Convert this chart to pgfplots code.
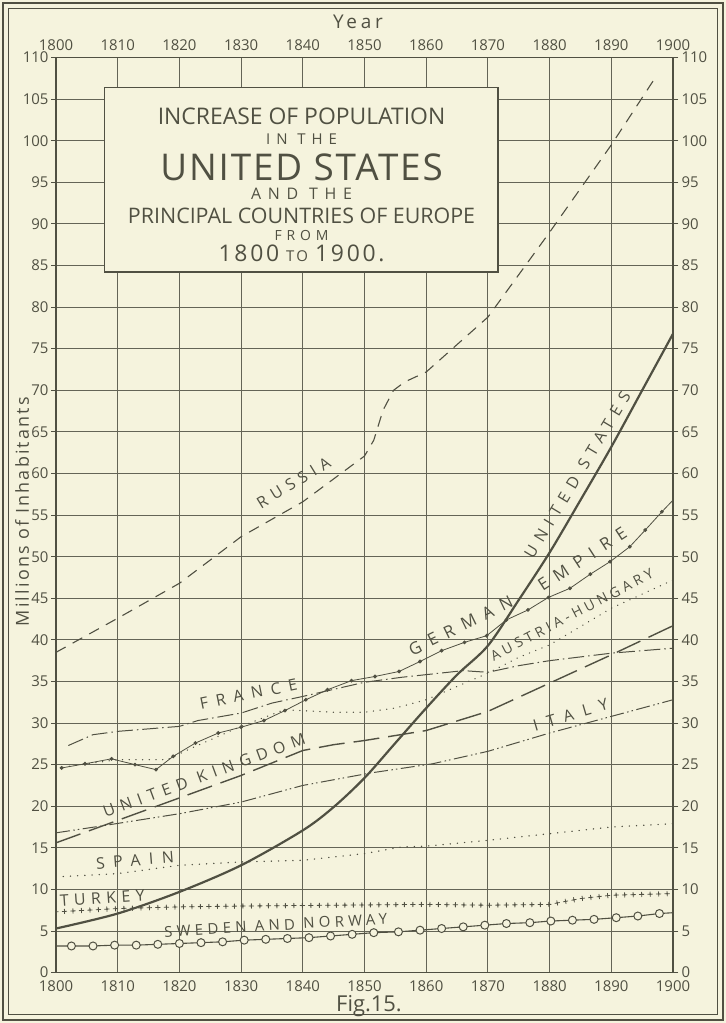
\documentclass[border=0pt]{standalone}
\usepackage{fontspec}
\setmainfont{Open Sans}
\usepackage{pgfplots}
\pgfplotsset{compat=1.18}
\usetikzlibrary{decorations.markings}
\definecolor{bg}{RGB}{245,243,221}
\definecolor{ink}{RGB}{80,80,66}
\definecolor{gridc}{RGB}{100,100,86}
\newcommand{\fs}[1]{\fontsize{#1}{#1}\selectfont}
\newcommand{\lbl}[3]{{\fs{#1}\addfontfeature{LetterSpace=#2}#3}}
\tikzset{crossmarks/.style={postaction={decorate, decoration={markings,
  mark=between positions 0 and 1 step 8.5bp with {\draw[ink, solid, line width=0.8bp] (-2.3bp,0bp)--(2.3bp,0bp) (0bp,-2.3bp)--(0bp,2.3bp);}}}}}
\begin{document}
\begin{tikzpicture}[x=1bp,y=1bp]
\fill[bg] (0,0) rectangle (726,1023);
\draw[ink, line width=2.5] (3,3) rectangle (723,1020);
\draw[ink, line width=0.9] (8.5,8.5) rectangle (717.5,1014.5);
\begin{axis}[at={(56bp,50.4bp)}, anchor=south west, scale only axis,
  width=617bp, height=915bp, xmin=1800, xmax=1900, ymin=0, ymax=110,
  xtick={1800,1810,...,1900}, ytick={0,5,...,110},
  grid=major, major grid style={gridc, line width=1.0},
  axis line style={ink, line width=1.6},
  tick align=outside, major tick length=5bp,
  xtick style={draw=none}, ytick style={ink, line width=1},
  tick label style={font=\fs{15}, text=ink},
  yticklabel style={xshift=1bp},
  /pgf/number format/assume math mode=true,
  /pgf/number format/set thousands separator={},
  clip=true]
% Russia
\addplot[ink, line width=1.1, dash pattern=on 11bp off 8bp] coordinates {
(1800,38.5)(1810,42.6)(1820,46.8)(1830,52.4)(1840,56.6)(1850,62.1)(1851.5,64.0)(1853,67.6)(1854.7,70.0)(1856.5,71.0)(1860,72.2)(1870,78.8)(1880,89.0)(1890,99.5)(1897.4,107.9)};
% United Kingdom
\addplot[ink, line width=1.4, dash pattern=on 26bp off 9bp] coordinates {
(1800,15.6)(1810,18.3)(1820,21.0)(1830,23.7)(1840,26.7)(1845,27.4)(1850,27.9)(1860,29.1)(1870,31.4)(1880,34.8)(1890,38.2)(1900,41.7)};
% France
\addplot[ink, line width=1.0, dash pattern=on 16bp off 4bp on 1.5bp off 4bp] coordinates {
(1802,27.3)(1806,28.6)(1810,29.0)(1820,29.6)(1823,30.3)(1830,31.2)(1835,32.4)(1840,33.2)(1850,34.9)(1856,35.5)(1866,36.3)(1870,36.1)(1875,36.9)(1880,37.5)(1890,38.4)(1900,39.0)};
% Austria-Hungary
\addplot[ink, line width=1.3, line cap=round, dash pattern=on 0.2bp off 6.5bp] coordinates {
(1800,24.6)(1810,25.6)(1818,25.6)(1822,27.0)(1830,29.6)(1837,31.6)(1845,31.3)(1850,31.3)(1855,31.8)(1860,32.8)(1865,34.4)(1870,36.0)(1875,37.9)(1880,39.4)(1890,43.8)(1900,47.2)};
% Italy
\addplot[ink, line width=1.0, dash pattern=on 14bp off 3.5bp on 1.5bp off 3bp on 1.5bp off 3.5bp] coordinates {
(1800,16.8)(1808,17.7)(1820,19.1)(1830,20.5)(1840,22.5)(1851,24.0)(1861,25.1)(1870,26.6)(1880,28.8)(1890,30.8)(1900,32.8)};
% Spain
\addplot[ink, line width=1.4, line cap=round, dash pattern=on 0.2bp off 7bp] coordinates {
(1800,11.5)(1810,11.9)(1820,12.9)(1830,13.3)(1840,13.5)(1850,14.3)(1856,15.1)(1860,15.2)(1870,15.9)(1880,16.7)(1890,17.5)(1900,17.9)};
% Turkey
\addplot[ink, line width=1.3, line cap=round, dash pattern=on 0.2bp off 8.3bp, crossmarks] coordinates {
(1800,7.3)(1810,7.7)(1820,7.9)(1830,8.0)(1860,8.2)(1870,8.1)(1880,8.2)(1885,8.9)(1890,9.3)(1900,9.5)};
% German Empire
\addplot[ink, line width=0.8, mark=*, mark size=1.5bp, mark options={fill=ink}] coordinates {
(1800.9,24.6)(1804.7,25.1)(1809.0,25.7)(1812.8,25.0)(1816.2,24.4)(1819.0,26.0)(1822.6,27.6)(1826.3,28.8)(1830.0,29.5)(1833.7,30.3)(1837.1,31.5)(1840.5,32.8)(1844.0,34.0)(1847.9,35.1)(1851.7,35.6)(1855.6,36.2)(1859.0,37.4)(1862.5,38.7)(1866.2,39.7)(1869.8,40.5)(1873.0,42.4)(1876.5,43.6)(1879.8,45.1)(1883.3,46.2)(1886.6,47.9)(1889.8,49.4)(1893.0,51.2)(1895.5,53.2)(1898.2,55.4)};
\addplot[ink, line width=0.8] coordinates {(1898.2,55.4)(1900,56.8)};
% United States
\addplot[ink, line width=2.2, smooth] coordinates {
(1800,5.3)(1810,7.1)(1820,9.7)(1830,12.9)(1840,17.1)(1845,19.9)(1850,23.4)(1855,27.6)(1860,31.8)(1865,35.8)(1870,39.3)(1875,44.8)(1880,50.5)(1885,56.8)(1890,63.2)(1895,70.0)(1900,76.8)};
% Sweden and Norway
\addplot[ink, line width=1.1] coordinates {
(1800,3.2)(1802.5,3.2)(1806,3.2)(1809.5,3.3)(1813,3.3)(1816.5,3.4)(1820,3.5)(1823.5,3.6)(1827,3.7)(1830.5,3.9)(1834,4.0)(1837.5,4.1)(1841,4.2)(1844.5,4.4)(1848,4.6)(1851.5,4.8)(1855.5,4.9)(1859,5.1)(1862.5,5.3)(1866,5.5)(1869.5,5.7)(1873,5.9)(1876.8,6.0)(1880.2,6.2)(1883.7,6.3)(1887.2,6.4)(1890.8,6.6)(1894.3,6.8)(1897.8,7.1)(1900,7.2)};
\addplot[only marks, mark=*, mark size=4bp, mark options={fill=bg, draw=ink, line width=1.0}] coordinates {
(1802.5,3.2)(1806,3.2)(1809.5,3.3)(1813,3.3)(1816.5,3.4)(1820,3.5)(1823.5,3.6)(1827,3.7)(1830.5,3.9)(1834,4.0)(1837.5,4.1)(1841,4.2)(1844.5,4.4)(1848,4.6)(1851.5,4.8)(1855.5,4.9)(1859,5.1)(1862.5,5.3)(1866,5.5)(1869.5,5.7)(1873,5.9)(1876.8,6.0)(1880.2,6.2)(1883.7,6.3)(1887.2,6.4)(1890.8,6.6)(1894.3,6.8)(1897.8,7.1)};
% Title box
\fill[bg] (axis cs:1807.9,84.2) rectangle (axis cs:1871.6,106.4);
\draw[ink, line width=1.5] (axis cs:1807.9,84.2) rectangle (axis cs:1871.6,106.4);
\begin{scope}[every node/.style={text=ink, inner sep=0pt, anchor=base}]
\node at (axis cs:1839.8,101.9) {\fs{23}INCREASE OF POPULATION};
\node at (axis cs:1839.8,99.6) {\lbl{15}{40}{IN THE}};
\node at (axis cs:1839.8,95.2) {\lbl{37}{5}{UNITED STATES}};
\node at (axis cs:1839.8,92.9) {\lbl{16}{42}{AND THE}};
\node at (axis cs:1839.8,90.1) {\fs{21.5}PRINCIPAL COUNTRIES OF EUROPE};
\node at (axis cs:1839.8,88.0) {\lbl{14}{35}{FROM}};
\node at (axis cs:1839.8,85.45) {\lbl{23}{12}{1800}\hspace{7bp}\lbl{15}{15}{TO}\hspace{7bp}\lbl{23}{12}{1900.}};
\end{scope}
% Series labels
\begin{scope}[every node/.style={text=ink, inner sep=0pt}]
\node[rotate=31.5] at (axis cs:1838.5,58.9) {\lbl{16}{37}{RUSSIA}};
\node[rotate=59] at (axis cs:1884.5,59.8) {\lbl{16}{44}{UNITED STATES}};
\node[rotate=26] at (axis cs:1865.6,41.7) {\lbl{17}{50}{GERMAN}};
\node[rotate=33] at (axis cs:1885.3,49.7) {\lbl{17}{50}{EMPIRE}};
\node[rotate=27.6] at (axis cs:1883.6,43.0) {\lbl{14}{28}{AUSTRIA-HUNGARY}};
\node[rotate=11.5] at (axis cs:1831.2,33.5) {\lbl{16}{50}{FRANCE}};
\node[rotate=20.3] at (axis cs:1824.0,23.7) {\lbl{16}{40}{UNITED KINGDOM}};
\node[rotate=16.3] at (axis cs:1883.4,31.0) {\lbl{16}{60}{ITALY}};
\node[rotate=4.5] at (axis cs:1812.8,13.5) {\lbl{16}{53}{SPAIN}};
\node[rotate=3.8] at (axis cs:1807.5,9.0) {\lbl{16}{34}{TURKEY}};
\node[rotate=3.4] at (axis cs:1835.6,5.7) {\lbl{15}{29}{SWEDEN AND NORWAY}};
\end{scope}
\end{axis}
\begin{axis}[at={(56bp,50.4bp)}, anchor=south west, scale only axis,
  width=617bp, height=915bp, xmin=1800, xmax=1900, ymin=0, ymax=110,
  xtick={1800,1810,...,1900}, ytick={0,5,...,110},
  axis x line*=top, axis y line*=right,
  axis line style={ink, line width=1.6},
  tick align=outside, major tick length=5bp,
  xtick style={draw=none}, ytick style={ink, line width=1},
  tick label style={font=\fs{15}, text=ink},
  xticklabel style={yshift=-2bp},
  /pgf/number format/assume math mode=true,
  /pgf/number format/set thousands separator={}]
\end{axis}
\node[text=ink] at (358,1001) {\lbl{19}{20}{Year}};
\node[text=ink, rotate=90] at (22,511.3) {\lbl{18}{12}{Millions of Inhabitants}};
\node[text=ink] at (369,17) {\fs{22}Fig.15.};
\pgfresetboundingbox
\useasboundingbox (0,0) rectangle (726,1023);
\end{tikzpicture}
\end{document}
